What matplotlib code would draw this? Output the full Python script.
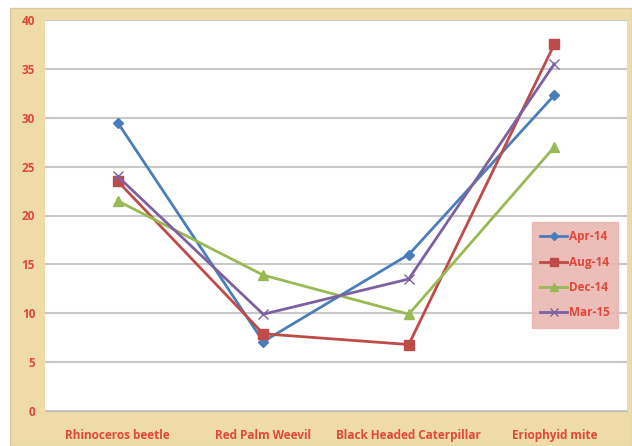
import matplotlib
matplotlib.use("Agg")
import matplotlib.pyplot as plt
from matplotlib.patches import Rectangle

categories = ["Rhinoceros beetle", "Red Palm Weevil", "Black Headed Caterpillar", "Eriophyid mite"]
apr14 = [29.5, 7.1, 16.0, 32.3]
aug14 = [23.5, 7.9, 6.8, 37.5]
dec14 = [21.5, 13.9, 9.9, 27.0]
mar15 = [24.0, 9.9, 13.5, 35.5]
yticks = [0, 5, 10, 15, 20, 25, 30, 35, 40]

W, H = 632, 446
fig = plt.figure(figsize=(W / 100, H / 100), dpi=100)
fig.patch.set_facecolor("white")
bg = Rectangle((10 / W, 0), 1 - 10 / W, 1 - 8 / H, transform=fig.transFigure,
               facecolor="#EEDBA8", edgecolor="#D8C9A0", lw=1, zorder=-10)
fig.add_artist(bg)

ax = fig.add_axes([45 / W, (H - 411) / H, (627 - 45) / W, (411 - 20) / H])
ax.set_zorder(1)
ax.set_facecolor("white")
x = list(range(len(categories)))

txt_color = "#E2473A"
series = [
    ("Apr-14", apr14, "#4A7EBB", "D", 5.5),
    ("Aug-14", aug14, "#BE4B48", "s", 7.5),
    ("Dec-14", dec14, "#98B954", "^", 7.5),
    ("Mar-15", mar15, "#7D60A0", "x", 7),
]
for name, vals, col, mk, ms in series:
    ax.plot(x, vals, color=col, lw=2.0, marker=mk, markersize=ms,
            markeredgecolor=col, markerfacecolor=col, label=name, zorder=3)

ax.set_xlim(-0.5, len(categories) - 0.5)
ax.set_ylim(0, 40)
ax.set_yticks(yticks)
ax.set_xticks(x)
ax.set_xticklabels(categories)
ax.grid(axis="y", color="#C8C8C8", lw=1.5)
ax.set_axisbelow(True)
for s in ["top", "right", "left"]:
    ax.spines[s].set_visible(False)
ax.spines["bottom"].set_color("#BBBBBB")
ax.tick_params(axis="both", length=0, labelsize=8.5, labelcolor=txt_color)
ax.tick_params(axis="y", pad=7)
ax.tick_params(axis="x", pad=13)
for lab in ax.get_xticklabels() + ax.get_yticklabels():
    lab.set_fontweight("bold")
    lab.set_family("Open Sans")

leg = ax.legend(loc="upper left", bbox_to_anchor=((532 - 45) / (627 - 45), (411 - 222) / (411 - 20)),
                borderaxespad=0, frameon=True, fancybox=False, fontsize=8.5, labelspacing=1.05,
                handlelength=2.3, borderpad=0.7, handletextpad=0.15, markerscale=0.75)
leg.get_frame().set_facecolor("#E9B7B3")
leg.get_frame().set_edgecolor("#E9B7B3")
leg.get_frame().set_alpha(0.9)
for t in leg.get_texts():
    t.set_color(txt_color)
    t.set_fontweight("bold")
    t.set_family("Open Sans")

fig.savefig("out.png", dpi=100, facecolor=fig.get_facecolor())
